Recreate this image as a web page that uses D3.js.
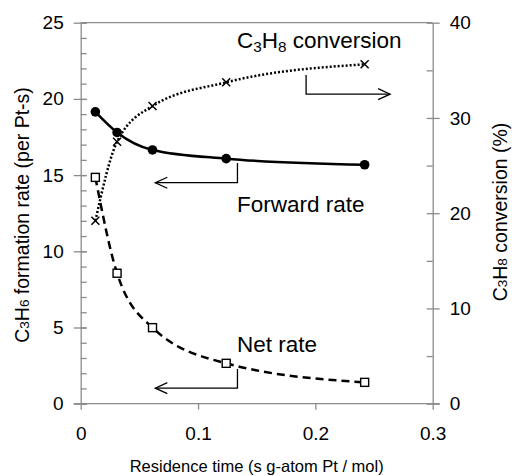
<html>
<head>
  <script src="https://d3js.org/d3.v7.min.js"></script>
  <style>
    body { margin: 0; background: #fff; }
    text { font-family: Arial, "Liberation Sans", sans-serif; fill: #000; }
  </style>
</head>
<body>
  <div id="chart"></div>
  <script>

    // Residence time (s g-atom Pt / mol), shared by all three series
    var residence = [0.0125, 0.031, 0.0612, 0.124, 0.242];
    // Forward rate (left axis)
    var forwardRate = [19.15, 17.8, 16.65, 16.08, 15.68];
    // Net rate (left axis)
    var netRate = [14.85, 8.56, 4.99, 2.65, 1.4];
    // C3H8 conversion, % (right axis)
    var conversion = [19.2, 27.5, 31.25, 33.74, 35.63];

    var xTicks = [0, 0.1, 0.2, 0.3];
    var leftTicks = [0, 5, 10, 15, 20, 25];
    var rightTicks = [0, 10, 20, 30, 40];

    var width = 512, height = 476;
    var margin = {top: 22.7, right: 79.3, bottom: 72.3, left: 80.7};
    var axisColor = "#8c8c8c";

    var svg = d3.select("#chart")
      .append("svg")
        .attr("width", width)
        .attr("height", height);

    var x = d3.scaleLinear().domain([0, 0.3]).range([margin.left, width - margin.right]);
    var yL = d3.scaleLinear().domain([0, 25]).range([height - margin.bottom, margin.top]);
    var yR = d3.scaleLinear().domain([0, 40]).range([height - margin.bottom, margin.top]);

    // top frame line
    svg.append("line")
      .attr("x1", x(0)).attr("x2", x(0.3))
      .attr("y1", yL(25)).attr("y2", yL(25))
      .attr("stroke", axisColor).attr("stroke-width", 1.3);

    function styleAxis(g) {
      g.selectAll(".domain").attr("stroke", axisColor).attr("stroke-width", 1.3);
      g.selectAll(".tick line").attr("stroke", axisColor).attr("stroke-width", 1.3);
      g.selectAll(".tick text")
        .attr("font-family", "Arial, 'Liberation Sans', sans-serif")
        .attr("fill", "#000");
    }

    // bottom axis
    var gx = svg.append("g")
      .attr("transform", `translate(0,${yL(0)})`)
      .call(d3.axisBottom(x).tickValues(xTicks).tickFormat(d3.format("")).tickSize(6).tickSizeOuter(0).tickPadding(17));
    styleAxis(gx);
    gx.selectAll(".tick text").attr("font-size", 19);
    gx.select(".domain").attr("d", `M${x(0) - 7},0H${x(0.3) + 7}`);

    // left axis: minor ticks (inside) then majors (crossing)
    var gLminor = svg.append("g")
      .attr("transform", `translate(${x(0)},0)`)
      .call(d3.axisRight(yL).tickValues(d3.range(0, 26, 1)).tickFormat("").tickSize(6).tickSizeOuter(0));
    styleAxis(gLminor);
    gLminor.select(".domain").remove();

    var gL = svg.append("g")
      .attr("transform", `translate(${x(0)},0)`)
      .call(d3.axisLeft(yL).tickValues(leftTicks).tickSize(7).tickSizeOuter(0).tickPadding(10));
    styleAxis(gL);
    gL.selectAll(".tick line").attr("x2", -7).attr("x1", 6);
    gL.selectAll(".tick text").attr("font-size", 19);

    // right axis
    var gRminor = svg.append("g")
      .attr("transform", `translate(${x(0.3)},0)`)
      .call(d3.axisLeft(yR).tickValues(d3.range(5, 40, 10)).tickFormat("").tickSize(6).tickSizeOuter(0));
    styleAxis(gRminor);
    gRminor.select(".domain").remove();

    var gR = svg.append("g")
      .attr("transform", `translate(${x(0.3)},0)`)
      .call(d3.axisRight(yR).tickValues(rightTicks).tickSize(7).tickSizeOuter(0).tickPadding(10));
    styleAxis(gR);
    gR.selectAll(".tick line").attr("x1", -6).attr("x2", 7);
    gR.selectAll(".tick text").attr("font-size", 19);

    // series
    var fwdData = residence.map((d, i) => ({x: d, y: forwardRate[i]}));
    var netData = residence.map((d, i) => ({x: d, y: netRate[i]}));
    var convData = residence.map((d, i) => ({x: d, y: conversion[i]}));

    var lineL = d3.line().x(d => x(d.x)).y(d => yL(d.y)).curve(d3.curveMonotoneX);
    var lineR = d3.line().x(d => x(d.x)).y(d => yR(d.y)).curve(d3.curveMonotoneX);

    svg.append("path").datum(netData)
      .attr("d", lineL).attr("fill", "none")
      .attr("stroke", "#000").attr("stroke-width", 2.5)
      .attr("stroke-dasharray", "8,5");

    svg.append("path").datum(convData)
      .attr("d", lineR).attr("fill", "none")
      .attr("stroke", "#000").attr("stroke-width", 2.5)
      .attr("stroke-dasharray", "2,2");

    svg.append("path").datum(fwdData)
      .attr("d", lineL).attr("fill", "none")
      .attr("stroke", "#000").attr("stroke-width", 2.5);

    // markers
    svg.selectAll(".fwd").data(fwdData).join("circle")
      .attr("class", "fwd")
      .attr("cx", d => x(d.x)).attr("cy", d => yL(d.y))
      .attr("r", 4.8).attr("fill", "#000");

    svg.selectAll(".net").data(netData).join("rect")
      .attr("class", "net")
      .attr("x", d => x(d.x) - 4).attr("y", d => yL(d.y) - 4)
      .attr("width", 8).attr("height", 8)
      .attr("fill", "#fff").attr("stroke", "#000").attr("stroke-width", 1.4);

    svg.selectAll(".conv").data(convData).join("path")
      .attr("class", "conv")
      .attr("transform", d => `translate(${x(d.x)},${yR(d.y)})`)
      .attr("d", "M-4,-4L4,4M-4,4L4,-4")
      .attr("stroke", "#000").attr("stroke-width", 1.5);

    // annotation arrows
    function arrow(xv, y0, y1, xEnd) {
      var g = svg.append("g").attr("fill", "none").attr("stroke", "#000").attr("stroke-width", 1.3);
      g.append("path").attr("d", `M${xv},${y0}V${y1}H${xEnd}`);
      var dir = xEnd < xv ? 1 : -1;
      g.append("path").attr("d", `M${xEnd + dir * 12},${y1 - 5.5}L${xEnd},${y1}L${xEnd + dir * 12},${y1 + 5.5}`);
    }
    arrow(x(0.1336), yL(15.8), yL(14.5), x(0.0636));
    arrow(x(0.1336), yL(2.27), yL(1.02), x(0.0636));
    arrow(x(0.1921), yR(34.5), yR(32.5), x(0.2637));

    // text with lowered subscripts
    function label(xp, yp, parts, size) {
      var t = svg.append("text").attr("x", xp).attr("y", yp).attr("font-size", size);
      var shift = 0;
      parts.forEach(p => {
        var want = p.sub ? 3.5 : 0;
        t.append("tspan")
          .attr("font-size", p.sub ? size * 0.68 : size)
          .attr("dy", want - shift)
          .text(p.t);
        shift = want;
      });
      return t;
    }
    label(237, 48.3, [{t: "C"}, {t: "3", sub: true}, {t: "H"}, {t: "8", sub: true}, {t: " conversion"}], 22.5);
    label(237, 211.7, [{t: "Forward rate"}], 22.5);
    label(237, 351.7, [{t: "Net rate"}], 22.5);

    // axis titles
    svg.append("text")
      .attr("x", (x(0) + x(0.3)) / 2).attr("y", 471.5)
      .attr("text-anchor", "middle").attr("font-size", 16.5)
      .text("Residence time (s g-atom Pt / mol)");

    function sideTitle(xp, yp, parts) {
      var t = svg.append("text")
        .attr("transform", `translate(${xp},${yp}) rotate(-90)`)
        .attr("text-anchor", "middle").attr("font-size", 19.5);
      parts.forEach(p => {
        t.append("tspan").attr("font-size", p.sub ? 13.5 : 19.5).text(p.t);
      });
    }
    sideTitle(28.5, 215, [{t: "C"}, {t: "3", sub: true}, {t: "H"}, {t: "6", sub: true}, {t: " formation rate (per Pt-s)"}]);
    sideTitle(506.5, 212, [{t: "C"}, {t: "3", sub: true}, {t: "H"}, {t: "8", sub: true}, {t: " conversion (%)"}]);

  </script>
</body>
</html>
